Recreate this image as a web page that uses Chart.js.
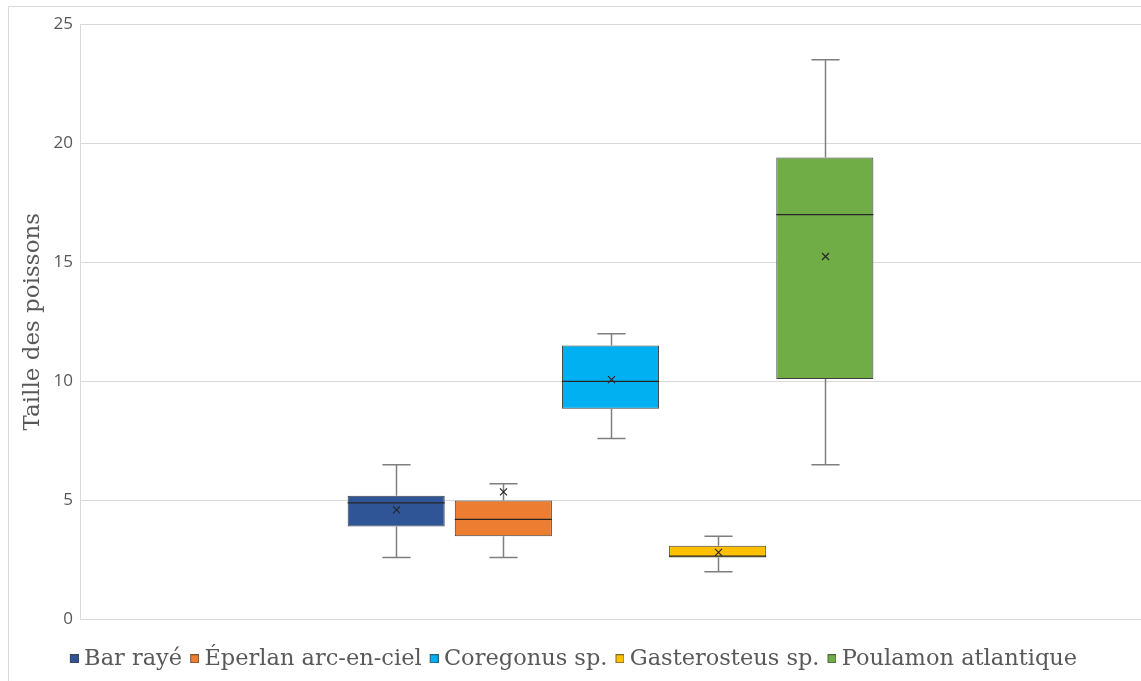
<!DOCTYPE html>
<html lang="fr">
<head>
<meta charset="utf-8">
<title>Taille des poissons</title>
<script src="https://cdn.jsdelivr.net/npm/chart.js@4/dist/chart.umd.min.js"></script>
<style>
  html, body { margin: 0; padding: 0; background: #ffffff; }
  #chart { display: block; }
</style>
</head>
<body>
<canvas id="chart" width="1141" height="681"></canvas>
<script>
// Species shown as box plots (one box per species)
const speciesNames = ['Bar rayé', 'Éperlan arc-en-ciel', 'Coregonus sp.', 'Gasterosteus sp.', 'Poulamon atlantique'];
const speciesColors = ['#2F5597', '#ED7D31', '#00B0F0', '#FFC000', '#70AD47'];

// Five-number summaries and means per species
const whiskerMin = [2.6, 2.6, 7.6, 2.0, 6.5];
const quartile1  = [3.9, 3.5, 8.85, 2.6, 10.1];
const medians    = [4.9, 4.2, 10.0, 2.66, 17.0];
const quartile3  = [5.2, 5.0, 11.5, 3.1, 19.4];
const whiskerMax = [6.5, 5.7, 12.0, 3.5, 23.5];
const means      = [4.6, 5.36, 10.07, 2.82, 15.24];

// Value axis
const yTicks = [0, 5, 10, 15, 20, 25];
const yTitle = 'Taille des poissons';

const boxOutline = '#404040';

const datasets = speciesNames.map((name, i) => ({
  label: name,
  data: [[quartile1[i], quartile3[i]]],
  backgroundColor: speciesColors[i],
  borderColor: boxOutline,
  borderWidth: 1,
  borderSkipped: false,
  categoryPercentage: 0.505,
  barPercentage: 0.906
}));

// Small square swatches for the legend (filled colour with a thin outline),
// placed on the right of a slightly wider transparent sprite so the label sits close
function makeSwatch(color) {
  const c = document.createElement('canvas');
  c.width = 13; c.height = 9;
  const g = c.getContext('2d');
  g.fillStyle = color;
  g.fillRect(4, 0, 9, 9);
  g.strokeStyle = 'rgba(64,64,64,0.7)';
  g.lineWidth = 1;
  g.strokeRect(4.5, 0.5, 8, 8);
  return c;
}
const swatches = speciesColors.map(makeSwatch);

// Whiskers, median lines and mean markers drawn on top of each box
const boxPlotDetails = {
  id: 'boxPlotDetails',
  afterDatasetsDraw(chart) {
    const { ctx } = chart;
    const y = chart.scales.y;
    chart.data.datasets.forEach((ds, i) => {
      const bar = chart.getDatasetMeta(i).data[0];
      if (!bar) return;
      const { x, width } = bar.getProps(['x', 'width'], true);
      const half = width / 2;
      const cap = width * 0.145;
      const yMin = y.getPixelForValue(whiskerMin[i]);
      const yQ1 = y.getPixelForValue(quartile1[i]);
      const yQ3 = y.getPixelForValue(quartile3[i]);
      const yMax = y.getPixelForValue(whiskerMax[i]);
      const yMed = y.getPixelForValue(medians[i]);
      const yMean = y.getPixelForValue(means[i]);
      const cx = Math.round(x) + 0.5;

      ctx.save();
      // whiskers and caps
      ctx.strokeStyle = '#7f7f7f';
      ctx.lineWidth = 1.5;
      ctx.beginPath();
      ctx.moveTo(cx, yQ3); ctx.lineTo(cx, yMax);
      ctx.moveTo(cx - cap, yMax); ctx.lineTo(cx + cap, yMax);
      ctx.moveTo(cx, yQ1); ctx.lineTo(cx, yMin);
      ctx.moveTo(cx - cap, yMin); ctx.lineTo(cx + cap, yMin);
      ctx.stroke();

      // median
      ctx.strokeStyle = '#262626';
      ctx.lineWidth = 1.3;
      ctx.beginPath();
      ctx.moveTo(x - half, yMed); ctx.lineTo(x + half, yMed);
      ctx.stroke();

      // mean marker (x)
      const m = 3.5;
      ctx.lineWidth = 1.2;
      ctx.beginPath();
      ctx.moveTo(cx - m, yMean - m); ctx.lineTo(cx + m, yMean + m);
      ctx.moveTo(cx - m, yMean + m); ctx.lineTo(cx + m, yMean - m);
      ctx.stroke();
      ctx.restore();
    });
  }
};

// White background and the light frame around the chart
const chartFrame = {
  id: 'chartFrame',
  beforeDraw(chart) {
    const { ctx, width, height } = chart;
    ctx.save();
    ctx.fillStyle = '#ffffff';
    ctx.fillRect(0, 0, width, height);
    ctx.strokeStyle = '#d9d9d9';
    ctx.lineWidth = 1;
    ctx.beginPath();
    ctx.moveTo(8.5, height);
    ctx.lineTo(8.5, 6.5);
    ctx.lineTo(width, 6.5);
    ctx.stroke();
    ctx.restore();
  }
};

new Chart(document.getElementById('chart'), {
  type: 'bar',
  data: { labels: [''], datasets },
  plugins: [chartFrame, boxPlotDetails],
  options: {
    responsive: false,
    animation: false,
    devicePixelRatio: 1,
    layout: { padding: { left: 8, top: 24, right: 0, bottom: 1 } },
    plugins: {
      tooltip: { enabled: false },
      legend: {
        position: 'bottom',
        labels: {
          usePointStyle: true,
          pointStyleWidth: 1,
          boxHeight: 9,
          padding: 10,
          color: '#595959',
          font: { family: '"DejaVu Serif", serif', size: 22.5 },
          generateLabels(chart) {
            const items = Chart.defaults.plugins.legend.labels.generateLabels(chart);
            items.forEach(item => { item.pointStyle = swatches[item.datasetIndex]; });
            return items;
          }
        }
      }
    },
    scales: {
      x: {
        display: true,
        ticks: { display: false },
        grid: { display: false },
        border: { display: false },
        afterFit(scale) { scale.height = 18; }
      },
      y: {
        min: yTicks[0],
        max: yTicks[yTicks.length - 1],
        afterBuildTicks(scale) { scale.ticks = yTicks.map(v => ({ value: v })); },
        afterFit(scale) { scale.width = 72; },
        ticks: {
          padding: 7,
          color: '#595959',
          font: { family: '"Open Sans", sans-serif', size: 17 }
        },
        grid: { color: '#d9d9d9', lineWidth: 1, drawTicks: false },
        border: { display: true, color: '#d9d9d9', width: 1 },
        title: {
          display: true,
          text: yTitle,
          color: '#595959',
          padding: { top: 11, bottom: 0 },
          font: { family: '"DejaVu Serif", serif', size: 23 }
        }
      }
    }
  }
});
</script>
</body>
</html>
